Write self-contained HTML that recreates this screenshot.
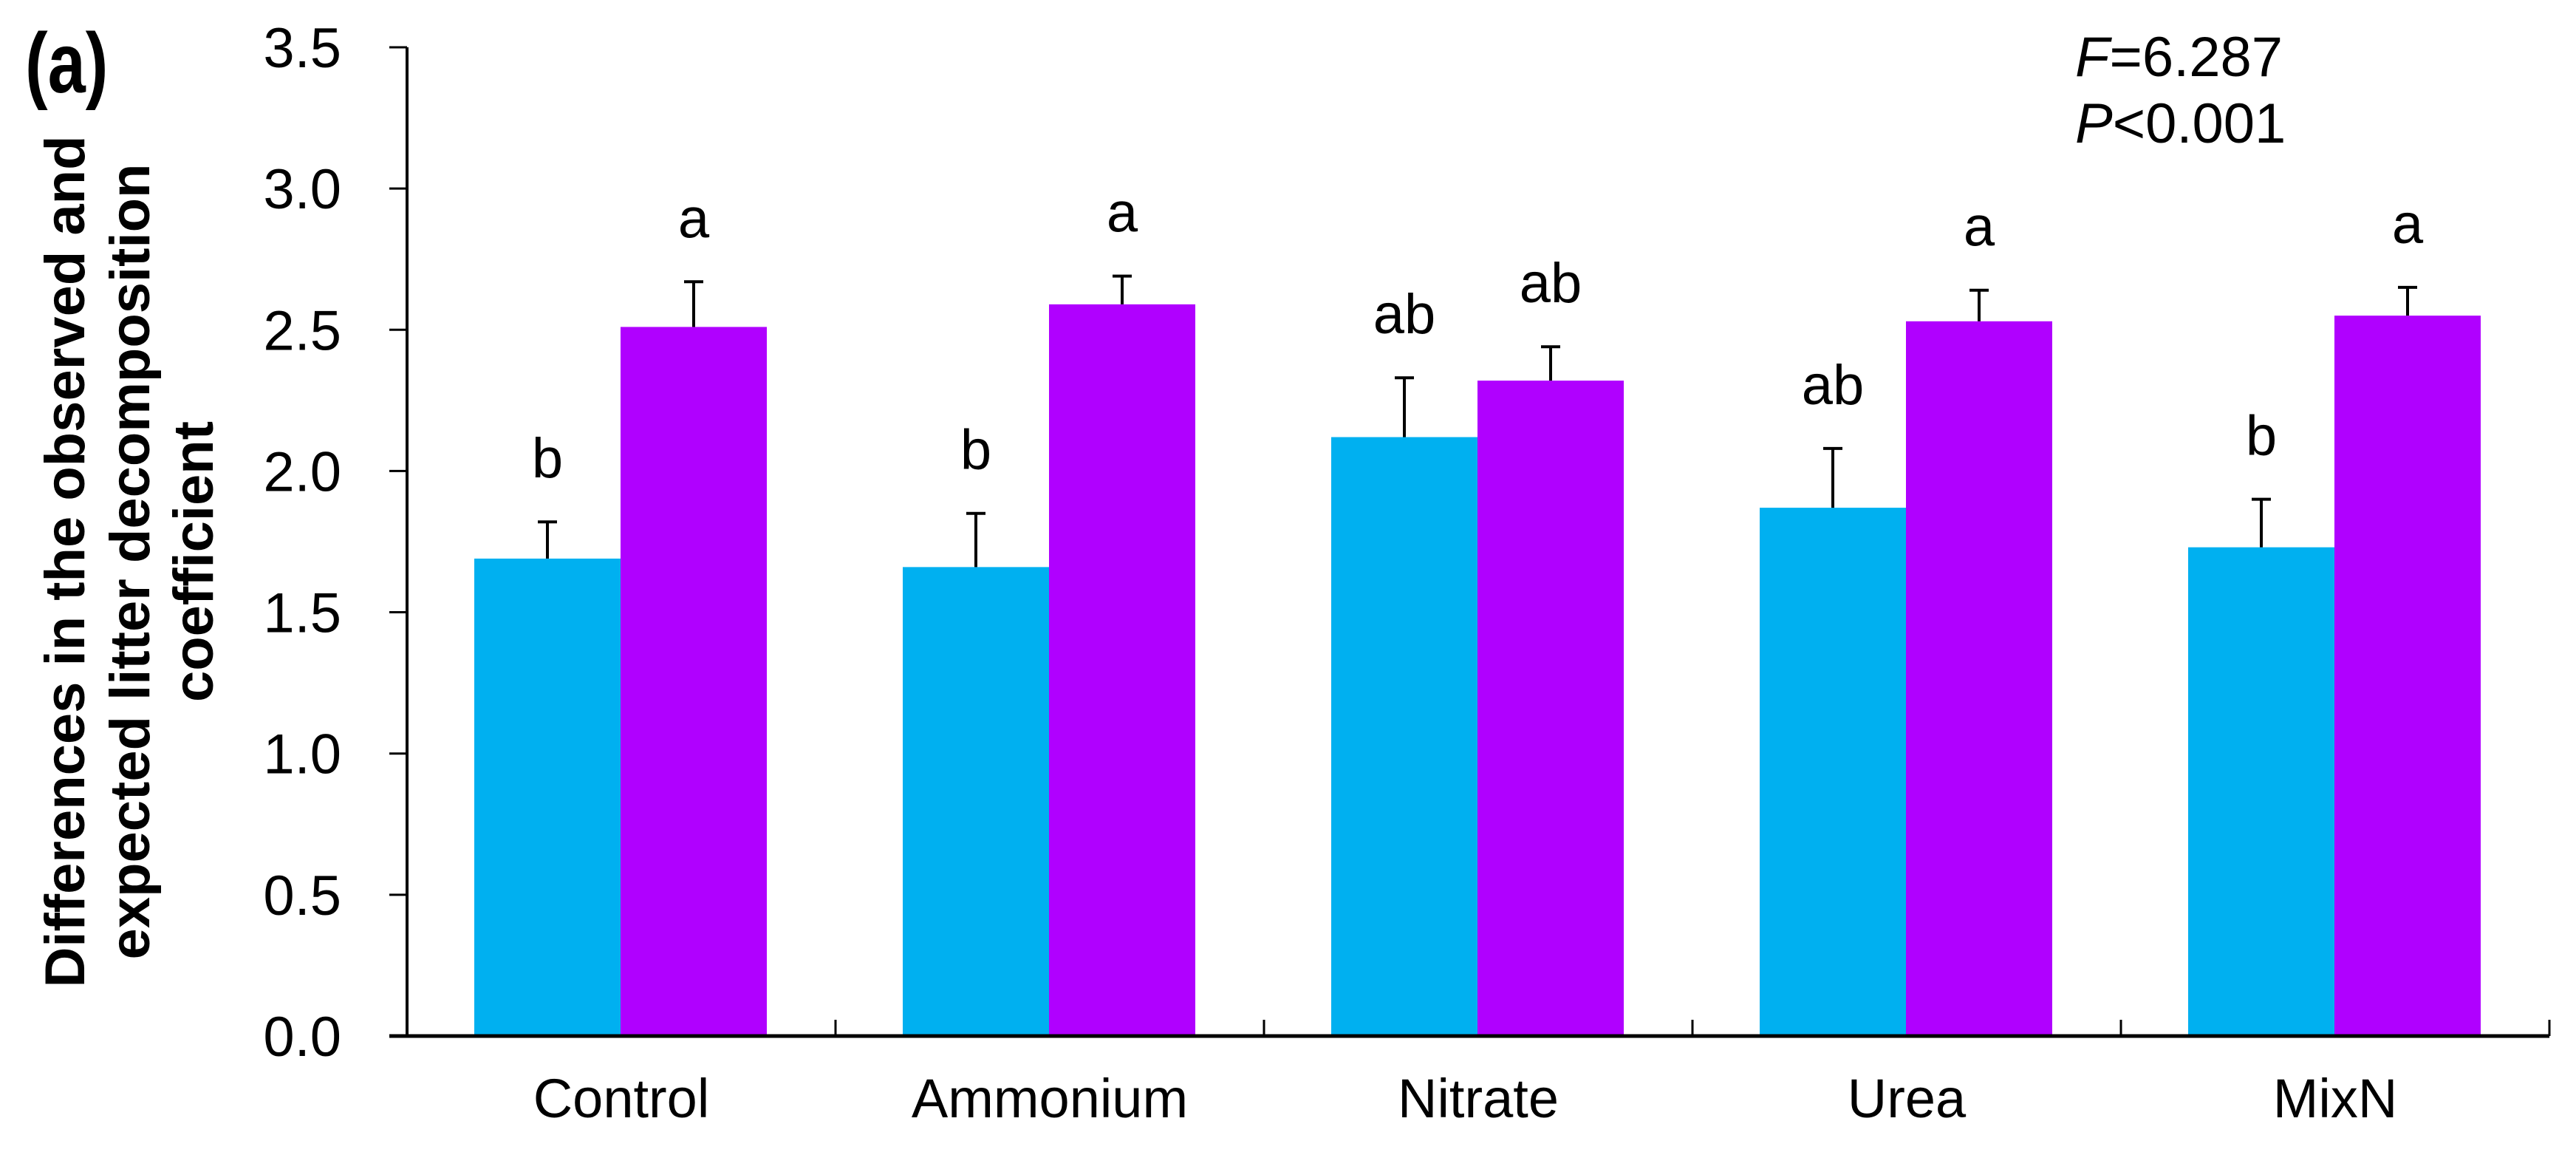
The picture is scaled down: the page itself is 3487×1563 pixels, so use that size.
<!DOCTYPE html>
<html><head><meta charset="utf-8"><style>
html,body{margin:0;padding:0;background:#fff;}
svg{display:block;font-family:"Liberation Sans",Arial,sans-serif;}
</style></head><body>
<svg id="chart" width="3487" height="1563" viewBox="0 0 3487 1563" xmlns="http://www.w3.org/2000/svg">
<text x="34" y="125" font-size="92" font-weight="bold" transform="translate(34,125) scale(1,1.25) translate(-34,-125)">(a)</text>
<g font-size="76" font-weight="bold" text-anchor="middle">
<text transform="translate(114,760) rotate(-90)">Differences in the observed and</text>
<text transform="translate(202,760) rotate(-90)">expected litter decomposition</text>
<text transform="translate(288,760) rotate(-90)">coefficient</text>
</g>
<g font-size="76">
<text x="2809" y="103"><tspan font-style="italic">F</tspan>=6.287</text>
<text x="2809" y="193"><tspan font-style="italic">P</tspan>&lt;0.001</text>
</g>
<g id="plot"></g>
</svg>
<script>
const categories = ["Control","Ammonium","Nitrate","Urea","MixN"];
const series1 = [1.69,1.66,2.12,1.87,1.73];
const series1Err = [0.13,0.19,0.21,0.21,0.17];
const series2 = [2.51,2.59,2.32,2.53,2.55];
const series2Err = [0.16,0.10,0.12,0.11,0.10];
const letters1 = ["b","b","ab","ab","b"];
const letters2 = ["a","a","ab","a","a"];
const yTicks = [0,0.5,1.0,1.5,2.0,2.5,3.0,3.5];

const NS="http://www.w3.org/2000/svg";
const x0=551, catW=580, y0=1402, unit=382.3, barW=198, barOff=91;
const yS=v=>y0-v*unit;
const xC=i=>x0+i*catW;
const g=document.getElementById('plot');
function mk(t,a){const e=document.createElementNS(NS,t);for(const k in a)e.setAttribute(k,a[k]);g.appendChild(e);return e;}

const colors=["#00B0F0","#B000FF"];
const vals=[series1,series2], errs=[series1Err,series2Err], lets=[letters1,letters2];
categories.forEach((c,i)=>{
  for(let s=0;s<2;s++){
    const v=vals[s][i], e=errs[s][i];
    const bx=xC(i)+barOff+s*barW, cx=bx+barW/2;
    const r=mk('rect',{x:bx,y:yS(v),width:barW,height:yS(0)-yS(v),fill:colors[s]});
    
    
    const l=mk('line',{x1:cx,x2:cx,y1:yS(v),y2:yS(v+e),stroke:'#000','stroke-width':4});
    
    
    const cap=mk('line',{x1:cx-13,x2:cx+13,y1:yS(v+e),y2:yS(v+e),stroke:'#000','stroke-width':4});
    
    
    const t=mk('text',{x:cx,y:yS(v+e)-60,'font-size':76,'text-anchor':'middle'});
    t.textContent=lets[s][i];
    
    
  }
  const tl=mk('text',{x:xC(i)+catW/2,y:1512,'font-size':74,'text-anchor':'middle'});
  tl.textContent=c;
  
  
  const tk=mk('line',{x1:xC(i+1),x2:xC(i+1),y1:y0,y2:y0-22,stroke:'#000','stroke-width':3});
  
  
});
yTicks.forEach(v=>{
  const tk=mk('line',{x1:x0-24,x2:x0,y1:yS(v),y2:yS(v),stroke:'#000','stroke-width':3});
  
  
  const t=mk('text',{x:462,y:yS(v)+27,'font-size':76,'text-anchor':'end'});
  t.textContent=v.toFixed(1);
  
  
});
const ya=mk('line',{x1:x0,x2:x0,y1:yS(3.5),y2:y0,stroke:'#000','stroke-width':4});


const xa=mk('line',{x1:x0-24,x2:xC(categories.length),y1:y0,y2:y0,stroke:'#000','stroke-width':5});


</script>
</body></html>
